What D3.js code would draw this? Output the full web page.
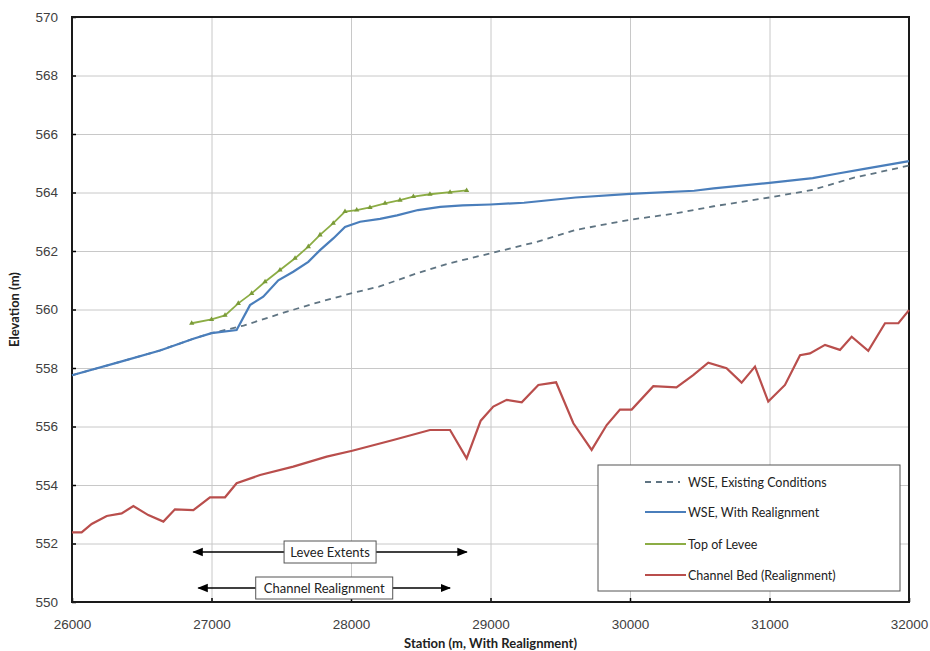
<!DOCTYPE html>
<html>
<head>
<meta charset="utf-8">
<script src="https://cdn.jsdelivr.net/npm/d3@7"></script>
<style>
  body { margin: 0; background: #fff; }
  svg { font-family: Lato, "Open Sans", sans-serif; }
  .tick text { fill: #404040; font-size: 13.5px; }
  .grid line { stroke: #c8c8c8; stroke-width: 1; }
  .grid path { display: none; }
</style>
</head>
<body>
<svg width="930" height="651"></svg>
<script>
// station (m) / elevation (m) pairs
const wseExisting = [
  [26000, 557.75], [26344, 558.21], [26631, 558.6], [26870, 559.0], [27000, 559.19],
  [27230, 559.45], [27490, 559.85], [27730, 560.2], [28000, 560.55], [28200, 560.78],
  [28450, 561.2], [28690, 561.56], [29000, 561.92], [29330, 562.31], [29610, 562.72],
  [30000, 563.07], [30320, 563.28], [30600, 563.53], [31000, 563.83], [31310, 564.09],
  [31600, 564.5], [32000, 564.92]
];

const wseRealign = [
  [26000, 557.75], [26344, 558.21], [26631, 558.6], [26870, 559.0], [27000, 559.19],
  [27180, 559.3], [27276, 560.15], [27371, 560.44], [27479, 561.0], [27586, 561.29],
  [27694, 561.63], [27778, 562.03], [27873, 562.43], [27957, 562.82], [28065, 563.0],
  [28208, 563.1], [28330, 563.22], [28480, 563.4], [28640, 563.51], [28800, 563.56],
  [29000, 563.59], [29240, 563.65], [29610, 563.83], [30000, 563.95], [30460, 564.06],
  [30600, 564.14], [31000, 564.33], [31310, 564.49], [31480, 564.64], [31680, 564.81],
  [32000, 565.07]
];

const topOfLevee = [
  [26858, 559.53], [27000, 559.66], [27097, 559.8], [27192, 560.21], [27288, 560.55],
  [27384, 560.95], [27491, 561.35], [27599, 561.75], [27694, 562.15], [27778, 562.55],
  [27873, 562.95], [27957, 563.35], [28041, 563.4], [28136, 563.49], [28244, 563.63],
  [28351, 563.74], [28447, 563.86], [28566, 563.94], [28710, 564.01], [28829, 564.07]
];

const channelBed = [
  [26000, 552.38], [26069, 552.38], [26141, 552.67], [26249, 552.94], [26356, 553.03],
  [26440, 553.28], [26547, 552.97], [26655, 552.75], [26738, 553.17], [26870, 553.14],
  [26989, 553.58], [27097, 553.58], [27180, 554.06], [27348, 554.34], [27586, 554.63],
  [27826, 554.97], [28009, 555.17], [28303, 555.54], [28566, 555.88], [28710, 555.88],
  [28829, 554.91], [28930, 556.2], [29020, 556.68], [29116, 556.91], [29224, 556.83],
  [29343, 557.42], [29470, 557.51], [29594, 556.11], [29725, 555.2], [29833, 556.05],
  [29928, 556.58], [30012, 556.58], [30167, 557.38], [30333, 557.34], [30453, 557.76],
  [30561, 558.18], [30692, 557.99], [30800, 557.5], [30896, 558.05], [30991, 556.85],
  [31111, 557.42], [31219, 558.44], [31290, 558.5], [31398, 558.79], [31505, 558.62],
  [31589, 559.07], [31708, 558.59], [31828, 559.53], [31924, 559.53], [32000, 559.98]
];

const xTicks = [26000, 27000, 28000, 29000, 30000, 31000, 32000];
const yTicks = [550, 552, 554, 556, 558, 560, 562, 564, 566, 568, 570];

// annotation ranges [start, end] in station
const leveeExtents = [26870, 28830];
const channelRealignment = [26906, 28710];

const seriesNames = ["WSE, Existing Conditions", "WSE, With Realignment", "Top of Levee", "Channel Bed (Realignment)"];

const margin = { left: 72, right: 909, top: 17, bottom: 602 };
const width = margin.right - margin.left;
const height = margin.bottom - margin.top;

const svg = d3.select("svg");

// arrow head
svg.append("defs").append("marker")
  .attr("id", "arrow")
  .attr("viewBox", "0 0 10 10")
  .attr("refX", 9).attr("refY", 5)
  .attr("markerWidth", 7).attr("markerHeight", 7)
  .attr("orient", "auto-start-reverse")
  .append("path")
  .attr("d", "M0,1 L10,5 L0,9 z")
  .attr("fill", "#000");

const chart = svg.append("g")
  .attr("transform", `translate(${margin.left}, ${margin.top})`);

const xScale = d3.scaleLinear().domain([26000, 32000]).range([0, width]);
const yScale = d3.scaleLinear().domain([550, 570]).range([height, 0]);

// grid
chart.append("g")
  .attr("class", "grid")
  .attr("transform", `translate(0, ${height})`)
  .call(d3.axisBottom(xScale).tickValues(xTicks).tickSize(-height).tickFormat(""));

chart.append("g")
  .attr("class", "grid")
  .call(d3.axisLeft(yScale).tickValues(yTicks).tickSize(-width).tickFormat(""));

// axes with inner ticks
const xAxis = chart.append("g")
  .attr("transform", `translate(0, ${height})`)
  .call(d3.axisBottom(xScale).tickValues(xTicks).tickFormat(d3.format("d")).tickSizeInner(-4).tickSizeOuter(0).tickPadding(17));
xAxis.select(".domain").remove();
xAxis.selectAll(".tick line").attr("stroke", "#000").attr("stroke-width", 1.5);

const yAxis = chart.append("g")
  .call(d3.axisLeft(yScale).tickValues(yTicks).tickSizeInner(-4).tickSizeOuter(0).tickPadding(14));
yAxis.select(".domain").remove();
yAxis.selectAll(".tick line").attr("stroke", "#000").attr("stroke-width", 1.5);

// plot frame
chart.append("rect")
  .attr("width", width).attr("height", height)
  .attr("fill", "none").attr("stroke", "#1a1a1a").attr("stroke-width", 2);

const line = d3.line()
  .x(d => xScale(d[0]))
  .y(d => yScale(d[1]));

chart.append("path").datum(wseExisting)
  .attr("d", line).attr("fill", "none")
  .attr("stroke", "#5f7482").attr("stroke-width", 1.8).attr("stroke-dasharray", "6,5");

chart.append("path").datum(wseRealign)
  .attr("d", line).attr("fill", "none")
  .attr("stroke", "#4a7ebb").attr("stroke-width", 2.2);

chart.append("path").datum(topOfLevee)
  .attr("d", line).attr("fill", "none")
  .attr("stroke", "#8cad45").attr("stroke-width", 1.8);

chart.selectAll(".levee-pt")
  .data(topOfLevee)
  .enter()
  .append("path")
  .attr("class", "levee-pt")
  .attr("transform", d => `translate(${xScale(d[0])}, ${yScale(d[1])})`)
  .attr("d", d3.symbol().type(d3.symbolTriangle).size(12))
  .attr("fill", "#7a9a38");

chart.append("path").datum(channelBed)
  .attr("d", line).attr("fill", "none")
  .attr("stroke", "#b94e4c").attr("stroke-width", 2.2);

// extent arrows with labelled boxes
function extentArrow(range, yPix, label, boxW) {
  const x0 = xScale(range[0]), x1 = xScale(range[1]);
  const mid = (x0 + x1) / 2;
  chart.append("line")
    .attr("x1", mid).attr("x2", x0).attr("y1", yPix).attr("y2", yPix)
    .attr("stroke", "#000").attr("stroke-width", 1.5).attr("marker-end", "url(#arrow)");
  chart.append("line")
    .attr("x1", mid).attr("x2", x1).attr("y1", yPix).attr("y2", yPix)
    .attr("stroke", "#000").attr("stroke-width", 1.5).attr("marker-end", "url(#arrow)");
  chart.append("rect")
    .attr("x", mid - boxW / 2).attr("y", yPix - 11)
    .attr("width", boxW).attr("height", 22)
    .attr("fill", "#fff").attr("stroke", "#555").attr("stroke-width", 1);
  chart.append("text")
    .attr("x", mid).attr("y", yPix + 4.5)
    .attr("text-anchor", "middle")
    .style("font-size", "13px").attr("fill", "#222")
    .text(label);
}
extentArrow(leveeExtents, 535, "Levee Extents", 92);
extentArrow(channelRealignment, 571, "Channel Realignment", 137);

// legend
const legend = svg.append("g").attr("transform", "translate(598, 465)");
legend.append("rect")
  .attr("width", 302).attr("height", 126)
  .attr("fill", "#fff").attr("stroke", "#555").attr("stroke-width", 1);

const legendStyles = [
  { color: "#5f7482", dash: "6,5" },
  { color: "#4a7ebb", dash: null },
  { color: "#8cad45", dash: null },
  { color: "#b94e4c", dash: null }
];
const legendRows = [17, 47, 79, 110];

seriesNames.forEach((name, i) => {
  const g = legend.append("g").attr("transform", `translate(0, ${legendRows[i]})`);
  g.append("line")
    .attr("x1", 47).attr("x2", i === 0 ? 82 : 88)
    .attr("stroke", legendStyles[i].color).attr("stroke-width", 2)
    .attr("stroke-dasharray", legendStyles[i].dash);
  g.append("text")
    .attr("x", 90).attr("y", 4.5)
    .style("font-size", "12.5px").attr("fill", "#222")
    .text(name);
});

// axis titles
svg.append("text")
  .attr("x", margin.left + width / 2).attr("y", 648)
  .attr("text-anchor", "middle")
  .style("font-size", "13px").style("font-weight", "bold").attr("fill", "#222")
  .text("Station (m, With Realignment)");

svg.append("text")
  .attr("transform", `translate(19, ${margin.top + height / 2}) rotate(-90)`)
  .attr("text-anchor", "middle")
  .style("font-size", "13px").style("font-weight", "bold").attr("fill", "#222")
  .text("Elevation (m)");
</script>
</body>
</html>
